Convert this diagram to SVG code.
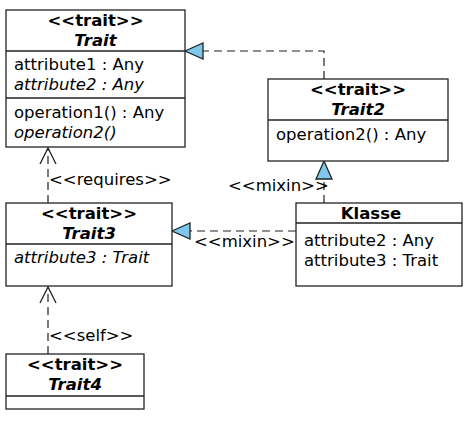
<svg xmlns="http://www.w3.org/2000/svg" width="474" height="421" viewBox="0 0 474 421">
<defs>
<style>
.box{fill:#fff;stroke:#222;stroke-width:1.3}
.sep{stroke:#222;stroke-width:1.3}
text{font-family:"DejaVu Sans",sans-serif;font-size:16.5px;fill:#000}
.b{font-weight:bold}
.bi{font-weight:bold;font-style:italic}
.i{font-style:italic}
.c{text-anchor:middle}
.dash{fill:none;stroke:#222;stroke-width:1.2;stroke-dasharray:8,5}
.tri{fill:#7EC8EE;stroke:#222;stroke-width:1.3}
.open{fill:none;stroke:#222;stroke-width:1.3}
</style>
</defs>
<rect width="474" height="421" fill="#fff"/>
<g id="connectors">
<path class="dash" d="M324,79 V51 H203"/>
<polygon class="tri" points="185,51 203,43 203,59"/>
<path class="dash" d="M324,203 V179"/>
<polygon class="tri" points="324,161 316,179 332,179"/>
<text x="228" y="191">&lt;&lt;mixin&gt;&gt;</text>
<path class="dash" d="M296,231 H190"/>
<polygon class="tri" points="172,231 190,223 190,239"/>
<text x="194" y="247">&lt;&lt;mixin&gt;&gt;</text>
<path class="dash" d="M48,203 V149"/>
<polyline class="open" points="40,164 48,148 56,164"/>
<text x="49" y="185">&lt;&lt;requires&gt;&gt;</text>
<path class="dash" d="M48,354 V288"/>
<polyline class="open" points="40,303 48,287 56,303"/>
<text x="49" y="341">&lt;&lt;self&gt;&gt;</text>
</g>
<g id="Trait">
<rect class="box" x="6" y="10" width="179" height="137"/>
<line class="sep" x1="6" y1="51" x2="185" y2="51"/>
<line class="sep" x1="6" y1="98" x2="185" y2="98"/>
<text class="b c" x="95.5" y="26">&lt;&lt;trait&gt;&gt;</text>
<text class="bi c" x="95.5" y="46">Trait</text>
<text x="14" y="70">attribute1 : Any</text>
<text class="i" x="14" y="90">attribute2 : Any</text>
<text x="14" y="118">operation1() : Any</text>
<text class="i" x="14" y="138">operation2()</text>
</g>
<g id="Trait2">
<rect class="box" x="268" y="79" width="180" height="82"/>
<line class="sep" x1="268" y1="120" x2="448" y2="120"/>
<text class="b c" x="358" y="95">&lt;&lt;trait&gt;&gt;</text>
<text class="bi c" x="358" y="115">Trait2</text>
<text x="276" y="140">operation2() : Any</text>
</g>
<g id="Trait3">
<rect class="box" x="6" y="203" width="166" height="83"/>
<line class="sep" x1="6" y1="244" x2="172" y2="244"/>
<text class="b c" x="89" y="219">&lt;&lt;trait&gt;&gt;</text>
<text class="bi c" x="89" y="239">Trait3</text>
<text class="i" x="14" y="263">attribute3 : Trait</text>
</g>
<g id="Klasse">
<rect class="box" x="296" y="203" width="166" height="83"/>
<line class="sep" x1="296" y1="223" x2="462" y2="223"/>
<text class="b c" x="371" y="219">Klasse</text>
<text x="304" y="246">attribute2 : Any</text>
<text x="304" y="266">attribute3 : Trait</text>
</g>
<g id="Trait4">
<rect class="box" x="6" y="354" width="138" height="55"/>
<line class="sep" x1="6" y1="396" x2="144" y2="396"/>
<text class="b c" x="75" y="370">&lt;&lt;trait&gt;&gt;</text>
<text class="bi c" x="75" y="390">Trait4</text>
</g>
</svg>
